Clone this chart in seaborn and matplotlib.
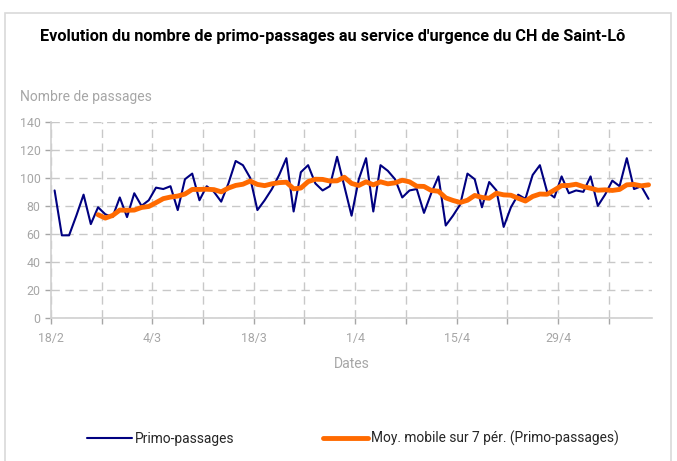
import numpy as np
import pandas as pd
import matplotlib.pyplot as plt
from matplotlib.patches import Rectangle
import seaborn as sns

# Daily primo-passages, 18/2 -> 11/5
primo = [91, 59, 59, 73, 88, 67, 79, 74, 72, 86, 72, 89, 80, 84, 93, 92, 94,
         77, 99, 103, 84, 94, 90, 83, 96, 112, 109, 100, 77, 84, 92, 102, 114,
         76, 104, 109, 96, 91, 94, 115, 94, 73, 99, 114, 76, 109, 105, 99, 86,
         91, 92, 75, 89, 101, 66, 73, 81, 103, 99, 79, 97, 91, 65, 79, 88, 85,
         102, 109, 90, 86, 101, 89, 91, 90, 101, 80, 88, 98, 94, 114, 92, 94, 85]
tick_labels = ["18/2", "4/3", "18/3", "1/4", "15/4", "29/4"]
title = "Evolution du nombre de primo-passages au service d'urgence du CH de Saint-Lô"

df = pd.DataFrame({"jour": np.arange(len(primo)), "primo": primo})
# Moving average over 7 periods (Excel trendline)
df["moy"] = df["primo"].rolling(7).mean()

sns.set_style("white")
plt.rcParams["font.family"] = ["Roboto", "DejaVu Sans"]

grey = "#a6a6a6"
fig = plt.figure(figsize=(6.77, 4.61), dpi=100)
renderer = fig.canvas.get_renderer()


def fit_size(s, target_px, weight="normal"):
    # font size giving the text a width of target_px
    t = fig.text(0, 0, s, fontsize=10, fontweight=weight)
    w = t.get_window_extent(renderer).width
    t.remove()
    return 10 * target_px / w


ax = fig.add_axes([0.0753, 0.310, 0.888, 0.426])

sns.lineplot(data=df, x="jour", y="primo", ax=ax, color="#000080", linewidth=1.5,
             label="Primo-passages")
sns.lineplot(data=df, x="jour", y="moy", ax=ax, color="#ff6a00", linewidth=3.5,
             label="Moy. mobile sur 7 pér. (Primo-passages)")

n = len(primo)
ax.set_xlim(-0.5, n - 0.5)
ax.set_ylim(0, 140)
ax.set_yticks(range(0, 141, 20))
week_pos = np.arange(-0.5, n - 0.5, 7)
ax.set_xticks(week_pos)
ax.set_xticklabels([tick_labels[i // 2] if i % 2 == 0 else "" for i in range(len(week_pos))])

tick_fs = fit_size("18/2", 26)
ax.grid(True, color="#c8c8c8", linestyle=(0, (6, 4)), linewidth=1)
ax.tick_params(axis="both", colors=grey, labelsize=tick_fs, length=4, width=1,
               direction="out", bottom=True, left=True)
ax.tick_params(axis="x", pad=6)
for side in ["top", "right"]:
    ax.spines[side].set_visible(False)
for side in ["left", "bottom"]:
    ax.spines[side].set_color("#d0d0d0")
    ax.spines[side].set_linewidth(1.2)

ax.set_ylabel("")
ax.set_xlabel("Dates", color=grey, fontsize=fit_size("Dates", 36), labelpad=9)
fig.text(20 / 677, 1 - 97 / 461, "Nombre de passages", color=grey,
         fontsize=fit_size("Nombre de passages", 132), va="center", ha="left")
fig.text(40 / 677, 1 - 37 / 461, title, color="black",
         fontsize=fit_size(title, 588, "bold"), fontweight="bold",
         va="center", ha="left")

leg_fs = fit_size("Primo-passages", 100)
px_per_em = leg_fs * 100 / 72
ax.legend(loc="center", bbox_to_anchor=((353 - 51) / 601, -(438 - 318) / 196),
          ncol=2, frameon=False, fontsize=leg_fs,
          handlelength=45 / px_per_em, handletextpad=3 / px_per_em,
          columnspacing=89 / px_per_em, borderaxespad=0)

fig.patches.append(Rectangle((5 / 677, -0.02), 666 / 677, 1 - 13 / 461 + 0.02,
                             transform=fig.transFigure, fill=False,
                             edgecolor="#d9d9d9", linewidth=1.2))

fig.savefig("out.png", dpi=100)
